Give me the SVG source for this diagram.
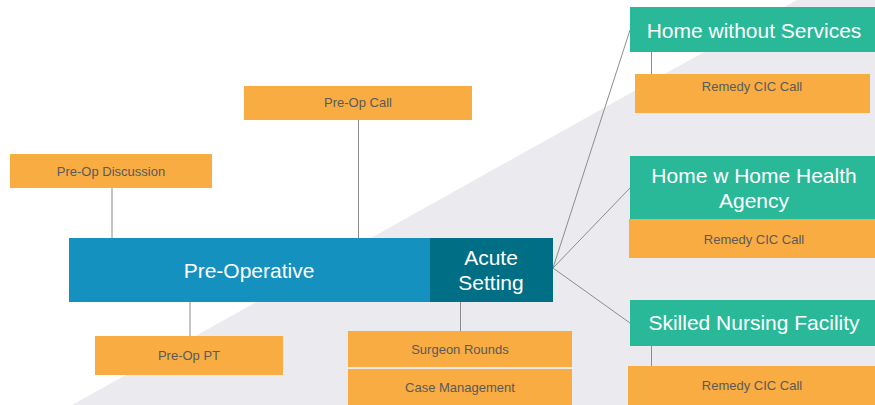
<svg xmlns="http://www.w3.org/2000/svg" width="875" height="405" viewBox="0 0 875 405">
  <style>
    .bg { fill: #ebebef; }
    .task { fill: #f8ac42; }
    .dest { fill: #29b999; }
    .pre { fill: #1591c0; }
    .acute { fill: #006f85; }
    .small { font-family: "Liberation Sans", Arial, sans-serif; font-size: 13px; fill: #5a5a5a; text-anchor: middle; }
    .big { font-family: "Liberation Sans", Arial, sans-serif; font-size: 21px; fill: #ffffff; text-anchor: middle; }
    .link { stroke: #8c8c8c; stroke-width: 1; fill: none; }
  </style>

  <!-- diagonal backdrop -->
  <polygon class="bg" points="797,0 875,0 875,405 72,405"/>

  <!-- connectors -->
  <g id="connectors">
    <line class="link" x1="112" y1="188" x2="112" y2="238"/>
    <line class="link" x1="358.5" y1="120" x2="358.5" y2="238"/>
    <line class="link" x1="190" y1="302" x2="190" y2="336"/>
    <line class="link" x1="460.5" y1="302" x2="460.5" y2="331"/>
    <line class="link" x1="553" y1="268" x2="630" y2="30"/>
    <line class="link" x1="553" y1="268" x2="630" y2="188"/>
    <line class="link" x1="553" y1="268" x2="630" y2="323"/>
    <line class="link" x1="651.5" y1="52" x2="651.5" y2="74"/>
    <line class="link" x1="651.5" y1="346" x2="651.5" y2="366"/>
  </g>

  <g id="pre-op-call">
    <rect class="task" x="244" y="86" width="228" height="34"/>
    <text class="small" x="358" y="107">Pre-Op Call</text>
  </g>

  <g id="pre-op-discussion">
    <rect class="task" x="10" y="154" width="202" height="34"/>
    <text class="small" x="111" y="176">Pre-Op Discussion</text>
  </g>

  <g id="pre-operative">
    <rect class="pre" x="69" y="238" width="361" height="64"/>
    <text class="big" x="249" y="278">Pre-Operative</text>
  </g>

  <g id="acute-setting">
    <rect class="acute" x="430" y="238" width="123" height="64"/>
    <text class="big" x="491" y="265">Acute</text>
    <text class="big" x="491" y="290">Setting</text>
  </g>

  <g id="pre-op-pt">
    <rect class="task" x="95" y="336" width="188" height="39"/>
    <text class="small" x="189" y="360">Pre-Op PT</text>
  </g>

  <g id="surgeon-rounds">
    <rect class="task" x="348" y="331" width="224" height="36"/>
    <text class="small" x="460" y="354">Surgeon Rounds</text>
  </g>

  <g id="case-management">
    <rect class="task" x="348" y="369" width="224" height="36"/>
    <text class="small" x="460" y="392">Case Management</text>
  </g>

  <g id="home-without-services">
    <rect class="dest" x="630" y="7" width="245" height="45"/>
    <text class="big" x="754" y="38">Home without Services</text>
  </g>

  <g id="remedy-call-1">
    <rect class="task" x="635" y="74" width="235" height="39"/>
    <text class="small" x="752" y="91">Remedy CIC Call</text>
  </g>

  <g id="home-health-agency">
    <rect class="dest" x="630" y="156" width="245" height="63"/>
    <text class="big" x="754" y="183">Home w Home Health</text>
    <text class="big" x="754" y="208">Agency</text>
  </g>

  <g id="remedy-call-2">
    <rect class="task" x="629" y="219" width="246" height="39"/>
    <text class="small" x="754" y="244">Remedy CIC Call</text>
  </g>

  <g id="skilled-nursing-facility">
    <rect class="dest" x="630" y="300" width="245" height="46"/>
    <text class="big" x="754" y="330">Skilled Nursing Facility</text>
  </g>

  <g id="remedy-call-3">
    <rect class="task" x="628" y="366" width="247" height="39"/>
    <text class="small" x="752" y="390">Remedy CIC Call</text>
  </g>
</svg>
